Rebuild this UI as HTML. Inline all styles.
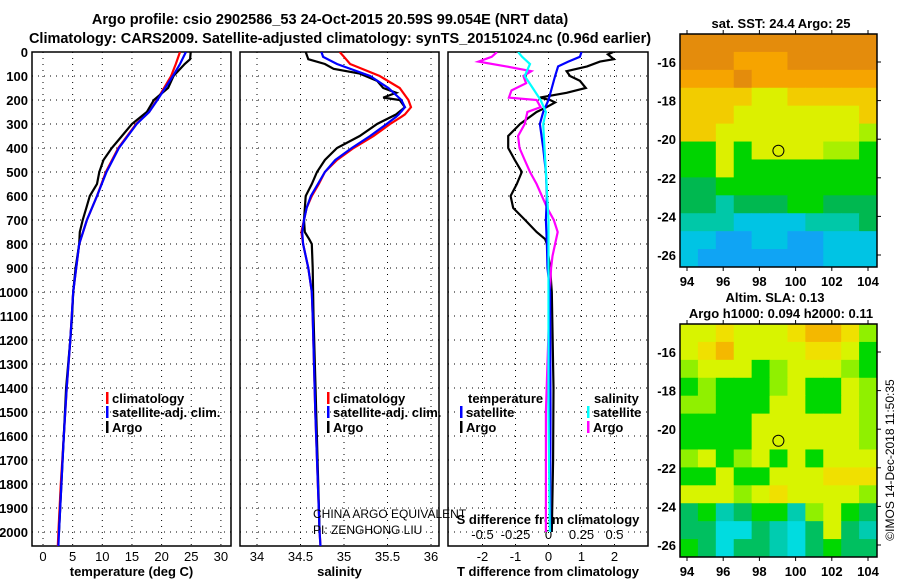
<!DOCTYPE html>
<html><head><meta charset="utf-8"><style>
body{margin:0;background:#fff}
svg{display:block;font-family:"Liberation Sans",sans-serif}
.b{font-weight:bold;font-size:13px}
.t{font-weight:bold;font-size:14.5px}
</style></head><body>
<svg id="s" width="900" height="580" viewBox="0 0 900 580" xmlns="http://www.w3.org/2000/svg">
<defs>
<clipPath id="c1"><rect x="32" y="52" width="199" height="494"/></clipPath>
<clipPath id="c2"><rect x="240" y="52" width="199" height="494"/></clipPath>
<clipPath id="c3"><rect x="448" y="52" width="200" height="494"/></clipPath>
</defs>
<text class="t" x="330" y="24" text-anchor="middle">Argo profile: csio 2902586_53 24-Oct-2015 20.59S 99.054E (NRT data)</text>
<text class="t" x="340" y="43" text-anchor="middle">Climatology: CARS2009. Satellite-adjusted climatology: synTS_20151024.nc (0.96d earlier)</text>
<g id="grids"></g>
<g id="series"></g>
<g id="maps"></g>
</svg>
<script>
const depthTicks=[0,100,200,300,400,500,600,700,800,900,1000,1100,1200,1300,1400,1500,1600,1700,1800,1900,2000];
const tTicks=[0,5,10,15,20,25,30];
const sTicks=[34,34.5,35,35.5,36];
const dTTicks=[-2,-1,0,1,2];
const dSTickLabels=["-0.5","-0.25","0","0.25","0.5"];
const dSTicks=[-0.5,-0.25,0,0.25,0.5];

const tDepth=[0,30,50,100,150,200,250,300,350,400,450,500,550,600,650,700,750,800,900,1000,1100,1200,1400,1600,1800,2000];
const tArgo=[24.9,24.8,23.9,22,21.1,18.7,17.5,15,13.3,11.6,10.2,9.5,9.1,7.9,7.3,6.7,6.2,6.1,5.5,5.1,4.9,4.6,3.9,3.5,3.1,2.7];
const cDepth=[0,50,100,200,250,300,400,500,600,700,800,1000,1200,1400,1600,1800,2000,2060];
const tClim=[23.1,22.4,21.6,19.2,17.9,15.7,12.7,10.6,9.1,7.4,6.1,5.1,4.6,4.0,3.5,3.0,2.6,2.5];
const tSat=[24.1,23.1,21.9,19.3,17.9,15.8,12.8,10.7,9.1,7.4,6.1,5.1,4.6,4.0,3.5,3.1,2.7,2.6];

const sDepthA=[0,30,50,70,90,120,150,170,190,200,230,260,300,350,400,450,500,550,600,700,750,780,800,900,1100,1500,2000];
const sArgo=[34.56,34.59,34.78,34.88,35.18,35.38,35.45,35.6,35.45,35.64,35.70,35.6,35.38,35.18,34.92,34.78,34.69,34.63,34.56,34.54,34.55,34.6,34.63,34.64,34.65,34.68,34.72];
const sDepthC=[0,20,50,100,150,200,230,260,270,300,350,400,450,500,550,600,650,700,750,800,900,1000,1100,1500,2000,2060];
const sClim=[34.95,35.0,35.07,35.41,35.64,35.74,35.77,35.70,35.66,35.53,35.34,35.11,34.92,34.78,34.71,34.63,34.57,34.54,34.51,34.53,34.59,34.63,34.64,34.67,34.72,34.73];
const sSat=[34.74,34.76,34.92,35.3,35.51,35.66,35.70,35.63,35.6,35.49,35.3,35.09,34.9,34.78,34.70,34.62,34.57,34.54,34.52,34.53,34.59,34.63,34.64,34.67,34.72,34.73];

const dtDepthA=[0,10,30,40,60,80,100,120,150,170,190,200,210,230,250,300,350,400,450,500,550,600,650,700,750,780,800,900,1000,1400,1700,2000];
const dtArgo=[1.96,1.8,1.98,1.56,1.17,0.55,0.65,0.95,1.13,0.55,-0.26,0.05,0.2,-0.06,-0.36,-0.86,-1.22,-1.22,-1.02,-0.81,-0.96,-1.15,-1.07,-0.71,-0.36,-0.1,-0.05,0.05,0.1,0.15,0.14,0.1];
const dtDepthS=[0,20,40,60,100,150,200,250,300,400,500,600,700,800,900,1000,1500,2000];
const dtSat=[1.0,0.95,0.6,0.29,0.2,0.1,0,-0.16,-0.26,-0.16,-0.08,-0.05,-0.08,-0.05,-0.03,0.05,0.06,0.05];
const dsDepthA=[0,20,40,60,80,100,130,160,190,200,230,250,300,350,400,450,500,550,600,650,700,750,800,850,900,1000,1500,2000];
const dsArgo=[-0.39,-0.43,-0.53,-0.32,-0.13,-0.19,-0.17,-0.28,-0.3,-0.09,-0.06,-0.16,-0.18,-0.23,-0.22,-0.18,-0.14,-0.09,-0.05,-0.01,0.04,0.07,0.05,0.03,0.02,0.01,-0.02,-0.02];
const dsDepthS=[0,20,50,100,150,200,250,300,400,500,600,700,1500,2000];
const dsSat=[-0.23,-0.2,-0.14,-0.18,-0.12,-0.06,-0.02,-0.04,-0.03,-0.02,-0.01,0,0,0.01];

const sstRows=["OOOOOOOOOOO","OOOoooOOOOO","oooOooooooo","YYYYyyYYYYY","YYYyyyyyyyY","YYyyyyyyyyL","GGyGyyyyLLG","GGyGGGGGGGG","ggGGGGGGGGG","ggTgggGGggg","TTTCCCCTTTg","CCBBCCBBCCC","CBBBBBBBCCC"];
const slaRows=["yyYyyyYOOYL","yYOyyyyYYyG","LyyyGLyyyLG","GLGGGLyGGyL","LLGGGyyGGyL","GGGGyyyyyyL","GGGGyyyyyyL","LyGLyGyGyyy","GGyGGyyyYYY","yyyLyYyyyyL","gGTgGGTLyGg","ggCCgTCgygT","GgCggTCgGgg"];

const NS="http://www.w3.org/2000/svg";
function mk(tag,at,parent,txt){const e=document.createElementNS(NS,tag);for(const k in at)e.setAttribute(k,at[k]);if(txt!==undefined)e.textContent=txt;parent.appendChild(e);return e;}
const yD=d=>52+d*0.24;
const xT=t=>43+5.93*t;
const xS=s=>257+87*(s-34);
const xdT=v=>548.5+33*v;
const xdS=v=>548.5+132*v;
const G=document.getElementById('grids'),S=document.getElementById('series'),M=document.getElementById('maps');

const panels=[[32,231,tTicks,xT,"temperature (deg C)",tTicks.map(String)],[240,439,sTicks,xS,"salinity",sTicks.map(String)],[448,648,dTTicks,xdT,"T difference from climatology",dTTicks.map(String)]];
panels.forEach((p,i)=>{
  const [x0,x1,ticks,fx,title,labs]=p;
  for(const d of depthTicks){
    const l=mk('line',{x1:x0,x2:x1,y1:yD(d),y2:yD(d),stroke:'#000','stroke-dasharray':'1 5'},G);
    
    
  }
  ticks.forEach((t,j)=>{
    const l=mk('line',{x1:fx(t),x2:fx(t),y1:52,y2:546,stroke:'#000','stroke-dasharray':'1 5'},G);
    
    
    const tx=mk('text',{x:fx(t),y:561,'text-anchor':'middle','font-size':'13'},G,labs[j]);
    
    
  });
  const r=mk('rect',{x:x0,y:52,width:x1-x0,height:494,fill:'none',stroke:'#000','stroke-width':1.5},G);
  
  
  const at=mk('text',{x:(x0+x1)/2,y:576,'text-anchor':'middle',class:'b'},G,title);
  
  
});
for(const d of depthTicks){
  const t=mk('text',{x:28,y:yD(d)+5,'text-anchor':'end',class:'b'},G,String(d));
  
  
}
dSTicks.forEach((v,j)=>{
  const t=mk('text',{x:xdS(v),y:539,'text-anchor':'middle','font-size':'13'},G,dSTickLabels[j]);
  
  
});
{const t=mk('text',{x:548,y:524,'text-anchor':'middle',class:'b'},G,'S difference from climatology');

}

function line(ds,vs,fx,col,clip,name){
  const pts=ds.map((d,i)=>fx(vs[i]).toFixed(1)+','+yD(d).toFixed(1)).join(' ');
  const p=mk('polyline',{points:pts,fill:'none',stroke:col,'stroke-width':2.2,'clip-path':'url(#'+clip+')'},S);
  
  
}
line(cDepth,tClim,xT,'#f00','c1','temperature-climatology-line');
line(tDepth,tArgo,xT,'#000','c1','temperature-argo-line');
line(cDepth,tSat,xT,'#00f','c1','temperature-satellite-line');
line(sDepthC,sClim,xS,'#f00','c2','salinity-climatology-line');
line(sDepthA,sArgo,xS,'#000','c2','salinity-argo-line');
line(sDepthC,sSat,xS,'#00f','c2','salinity-satellite-line');
line(dtDepthA,dtArgo,xdT,'#000','c3','t-diff-argo-line');
line(dsDepthA,dsArgo,xdS,'#f0f','c3','s-diff-argo-line');
line(dtDepthS,dtSat,xdT,'#00f','c3','t-diff-satellite-line');
line(dsDepthS,dsSat,xdS,'#0ff','c3','s-diff-satellite-line');

function legend(x,y,col,label){
  const r=mk('rect',{x:x,y:y-11,width:2.5,height:12,fill:col},S);
  
  
  const t=mk('text',{x:x+6,y:y,class:'b'},S,label);
  
  
}
legend(106,403,'#f00','climatology');legend(106,417,'#00f','satellite-adj. clim.');legend(106,432,'#000','Argo');
legend(327,403,'#f00','climatology');legend(327,417,'#00f','satellite-adj. clim.');legend(327,432,'#000','Argo');
{const t=mk('text',{x:468,y:403,class:'b'},S,'temperature');}
{const t=mk('text',{x:594,y:403,class:'b'},S,'salinity');}
legend(460,417,'#00f','satellite');legend(460,432,'#000','Argo');
legend(587,417,'#0ff','satellite');legend(587,432,'#f0f','Argo');
{const t=mk('text',{x:313,y:518,'font-size':'12'},S,'CHINA ARGO EQUIVALENT');}
{const t=mk('text',{x:313,y:534,'font-size':'12'},S,'PI: ZENGHONG LIU');}

const colA={O:'#e48c0c',o:'#f6a400',Y:'#f2cc00',y:'#dcf000',L:'#a8f000',G:'#00d400',g:'#00b850',T:'#00c8a8',C:'#00c4e4',B:'#10a4f4'};
const colB={O:'#f4b800',Y:'#f0e000',y:'#d8f400',L:'#90f000',G:'#00d800',g:'#00c060',T:'#00ccb0',C:'#00dce0'};
const lonX=l=>687+18.1*(l-94);
function map(top,rows,cols,name,title1,title2){
  const latY=la=>top+28+19.3*(-16-la);
  const x0=680,x1=877,y0=top,y1=top+233;
  const ch=(y1-y0)/rows.length, cw=(x1-x0)/rows[0].length;
  rows.forEach((row,i)=>{[...row].forEach((c,j)=>{
    const r=mk('rect',{x:x0+j*cw,y:y0+i*ch,width:cw+0.5,height:ch+0.5,fill:cols[c]},M);
    
    
  });});
  const f=mk('rect',{x:x0,y:y0,width:x1-x0,height:y1-y0,fill:'none',stroke:'#000','stroke-width':1.5},M);
  
  
  for(let l=94;l<=104;l+=2){
    mk('line',{x1:lonX(l),x2:lonX(l),y1:y0-4,y2:y0,stroke:'#000'},M);
    mk('line',{x1:lonX(l),x2:lonX(l),y1:y1,y2:y1+4,stroke:'#000'},M);
    const t=mk('text',{x:lonX(l),y:y1+19,'text-anchor':'middle',class:'b'},M,String(l));
    
    
  }
  for(let la=-16;la>=-26;la-=2){
    mk('line',{x1:x1,x2:x1+4,y1:latY(la),y2:latY(la),stroke:'#000'},M);
    const lb=mk('text',{x:676,y:latY(la)+5,'text-anchor':'end',class:'b'},M,String(la));
    
    
  }
  const c=mk('circle',{cx:lonX(99.05),cy:latY(-20.6),r:5.5,fill:'none',stroke:'#000','stroke-width':1},M);
  
  
  const t=mk('text',{x:781,y:top-6,'text-anchor':'middle',class:'b'},M,title1);
  
  
  if(title2){const t2=mk('text',{x:775,y:top-22,'text-anchor':'middle',class:'b'},M,title2);
    
    }
}
map(34,sstRows,colA,'sst-map','sat. SST: 24.4 Argo: 25');
map(324,slaRows,colB,'sla-map','Argo h1000: 0.094 h2000: 0.11','Altim. SLA: 0.13');
{const t=mk('text',{x:0,y:0,'font-size':'12',transform:'translate(894,460) rotate(-90)','text-anchor':'middle'},M,'©IMOS 14-Dec-2018 11:50:35');

}
</script>
</body></html>
